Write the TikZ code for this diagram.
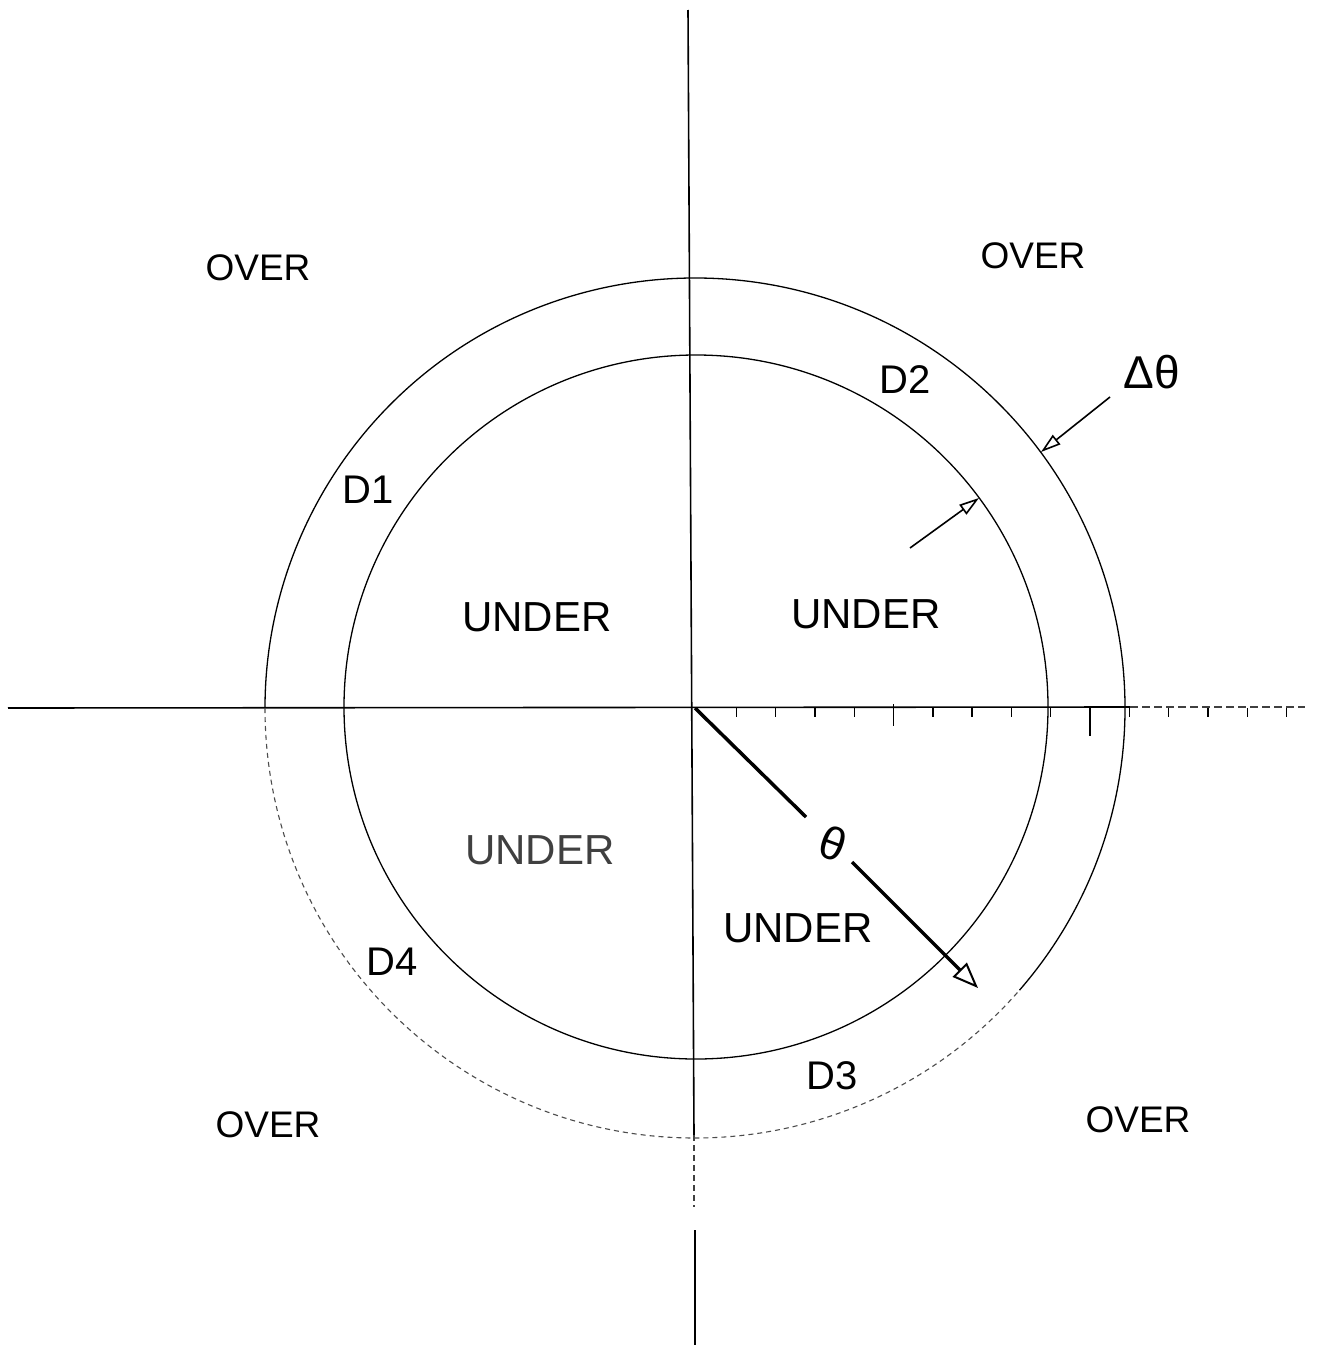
\documentclass[tikz,border=0pt]{standalone}
\usepackage{fontspec}
\setmainfont{Liberation Sans}
\usetikzlibrary{arrows.meta}
\begin{document}
\begin{tikzpicture}[x=1pt,y=-1pt,
  axisline/.style={line width=1.6pt, black},
  circline/.style={line width=1.3pt, black},
  fadeline/.style={line width=1.1pt, black!70, dash pattern=on 5pt off 4pt},
  tickmark/.style={line width=1.4pt, black},
  bigarrow/.style={line width=3.5pt, -{Triangle[open, length=26pt, width=20pt, line width=2pt]}},
  dimarrow/.style={line width=1.6pt, -{Triangle[open, length=20pt, width=12pt, line width=1.6pt]}},
  overlbl/.style={font=\fontsize{37}{40}\selectfont, inner sep=0pt},
  underlbl/.style={font=\fontsize{42}{46}\selectfont, inner sep=0pt},
  dlbl/.style={font=\fontsize{40}{44}\selectfont, inner sep=0pt},
  greek/.style={font=\fontsize{46}{50}\selectfont, inner sep=0pt}]
\useasboundingbox (0,0) rectangle (1318,1349);
\fill[white] (0,0) rectangle (1318,1349);

% centre and axes ends
\coordinate (C) at (695,708);
\coordinate (Ci) at (696,707);
\coordinate (xl) at (8,708);
\coordinate (xs) at (1130,707);
\coordinate (xr) at (1305,707);
\coordinate (yt) at (688,10);
\coordinate (yc) at (694,1135);
\coordinate (yd) at (694,1207);
\coordinate (yb1) at (695,1230);
\coordinate (yb) at (695,1345);

% axes
\draw[axisline] (xl) -- (xs);
\draw[axisline, dash pattern=on 8pt off 4pt, black!75] (xs) -- (xr);
\draw[axisline] (yt) -- (yc);
\draw[axisline, dash pattern=on 6pt off 4pt, black!75] (yc) -- (yd);
\draw[axisline] (yb1) -- (yb);

% ticks on the positive x axis
\foreach \i in {1,2,3,4,6,7,8,9,11,12,13,14,15}{
  \draw[tickmark] ({697+39.3*\i},708) -- ({697+39.3*\i},717);
}
\draw[tickmark] ({697+39.3*5},704) -- ({697+39.3*5},726);
\draw[tickmark, line width=1.8pt] ({697+39.3*10},706) -- ({697+39.3*10},736);

% circles (y axis points down, so angles are mirrored)
\draw[circline] (Ci) circle[radius=352];
\draw[circline] (C) ++(41:430) arc[start angle=41, end angle=-180, radius=430];
\draw[fadeline] (C) ++(-180:430) arc[start angle=-180, end angle=-319, radius=430];

% theta arrow
\node[greek, rotate=-20] (th) at (833,843) {θ};
\coordinate (thA) at (806,817);
\coordinate (thB) at (852,862);
\coordinate (thTip) at (978,988);
\draw[line width=3.5pt] (C) -- (thA);
\draw[bigarrow] (thB) -- (thTip);

% delta theta dimension arrows
\node[greek] (dth) at (1152,372) {Δθ};
\coordinate (doT) at (1110,397);
\coordinate (doH) at (1041,452);
\coordinate (diT) at (910,548);
\coordinate (diH) at (979,498);
\draw[dimarrow] (doT) -- (doH);
\draw[dimarrow] (diT) -- (diH);

% labels
\node[overlbl] (o1) at (258,268) {OVER};
\node[overlbl] (o2) at (1033,256) {OVER};
\node[overlbl] (o3) at (268,1125) {OVER};
\node[overlbl] (o4) at (1138,1120) {OVER};
\node[dlbl] (d1) at (368,490) {D1};
\node[dlbl] (d2) at (905,380) {D2};
\node[dlbl] (d3) at (832,1076) {D3};
\node[dlbl] (d4) at (392,962) {D4};
\node[underlbl] (u1) at (537,617) {UNDER};
\node[underlbl] (u2) at (866,614) {UNDER};
\node[underlbl, black!75] (u3) at (540,850) {UNDER};
\node[underlbl] (u4) at (798,928) {UNDER};
\end{tikzpicture}
\end{document}
